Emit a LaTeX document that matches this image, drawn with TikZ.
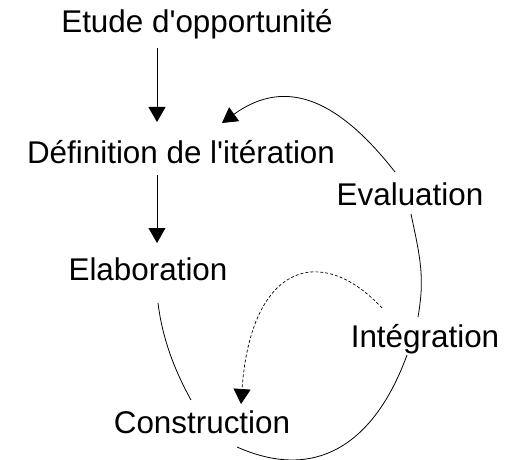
\documentclass[tikz,border=0pt]{standalone}
\usepackage{fontspec}
\setmainfont{Liberation Sans}
\usetikzlibrary{arrows.meta}

\begin{document}
\begin{tikzpicture}[x=1pt,y=1pt,
    every node/.style={font=\fontsize{31.4}{37}\selectfont,inner sep=0pt,anchor=base},
    tip/.style={-{Triangle[width=17pt,length=15pt]}}]
      \useasboundingbox (0,0) rectangle (512,459);
      \draw
        (197,426) node (0){Etude d\textquotesingle opportunité}
        (181,296) node (1){Définition de l\textquotesingle itération}
        (148,179) node (2){Elaboration}
        (202,26) node (3){Construction}
        (425,112) node (4){Intégration}
        (410,254) node (5){Evaluation};
      \begin{scope}[line width=0.8pt]
        \draw[tip] ([shift={(-40,-15)}]0.base) -- ([shift={(-24,41)}]1.base);
        \draw[tip] ([shift={(-24,-12)}]1.base) -- ([shift={(9,37)}]2.base);
        \draw ([shift={(10,-23)}]2.base) .. controls +(-83:35) and +(119:35) .. ([shift={(-11,33)}]3.base);
        \draw ([shift={(35,-14)}]3.base) .. controls +(-24:90) and +(250:90) .. ([shift={(-18,-8)}]4.base);
        \draw ([shift={(-7,30)}]4.base) .. controls +(80:40) and +(-78:45) .. ([shift={(1,-9)}]5.base);
        \draw[tip] ([shift={(-15,33)}]5.base) .. controls +(128:90) and +(36:80) .. ([shift={(41,40)}]1.base);
        \draw[tip,dash pattern=on 3pt off 2pt,line width=0.7pt] ([shift={(-43,39)}]4.base) .. controls +(133:90) and +(86:140) .. ([shift={(39,29)}]3.base);
      \end{scope}
    \end{tikzpicture}
\end{document}
